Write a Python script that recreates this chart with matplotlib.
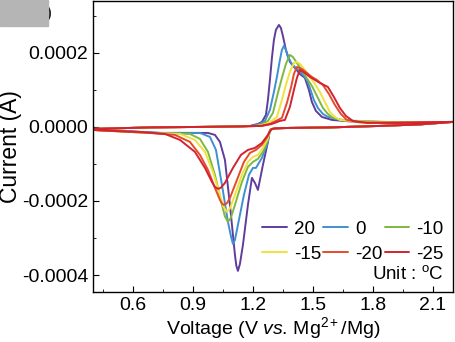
import numpy as np
import matplotlib.pyplot as plt
from matplotlib.patches import Rectangle

plt.rcParams['font.family'] = ['Liberation Sans', 'DejaVu Sans']
plt.rcParams['axes.unicode_minus'] = False
plt.rcParams['mathtext.fontset'] = 'custom'
plt.rcParams['mathtext.rm'] = 'Liberation Sans'
plt.rcParams['mathtext.it'] = 'Liberation Sans:italic'

# currents are given in units of 1e-4 A
SCALE = 1e-4

temps = ['20', '0', '-10', '-15', '-20', '-25']
colors = ['#5f3d9c', '#3f8fd2', '#7db842', '#f0e23c', '#e64a2a', '#d2232f']

# shared low-voltage part of the anodic sweep
base_v = [0.400, 0.685, 0.935, 1.135]
base_i = [-0.054, -0.0135, 0.0, 0.0135]

# shared high-voltage part of the cathodic sweep (2.2 V -> 1.33 V)
top_v = [2.200, 2.035, 1.835, 1.585, 1.385, 1.335]
top_i = [0.135, 0.068, 0.027, -0.0135, -0.027, -0.035]

# anodic sweeps
fwd_v_20 = [1.185, 1.225, 1.245, 1.265, 1.275, 1.285, 1.295, 1.305, 1.315, 1.330, 1.340,
            1.350, 1.365, 1.385, 1.410, 1.435, 1.460, 1.480, 1.495, 1.515, 1.545, 1.595,
            1.685, 1.935, 2.200]
fwd_i_20 = [0.027, 0.081, 0.135, 0.324, 0.729, 1.269, 1.863, 2.349, 2.619, 2.754, 2.673,
            2.457, 2.079, 1.755, 1.593, 1.430, 1.323, 0.999, 0.675, 0.432, 0.270, 0.189,
            0.149, 0.122, 0.135]

fwd_v_0 = [1.195, 1.235, 1.260, 1.285, 1.305, 1.320, 1.335, 1.345, 1.355, 1.365, 1.375,
           1.395, 1.415, 1.435, 1.455, 1.470, 1.485, 1.505, 1.525, 1.550, 1.575, 1.635,
           1.735, 1.935, 2.200]
fwd_i_0 = [0.027, 0.081, 0.162, 0.459, 0.945, 1.350, 1.809, 2.079, 2.187, 2.079, 1.890,
           1.701, 1.593, 1.500, 1.377, 1.269, 1.053, 0.729, 0.513, 0.351, 0.270, 0.189,
           0.149, 0.122, 0.135]

fwd_v_m10 = [1.210, 1.250, 1.275, 1.300, 1.325, 1.345, 1.365, 1.385, 1.400, 1.420, 1.450,
             1.475, 1.495, 1.510, 1.530, 1.550, 1.575, 1.600, 1.660, 1.785, 1.935, 2.200]
fwd_i_m10 = [0.027, 0.081, 0.162, 0.378, 0.918, 1.323, 1.701, 1.944, 1.890, 1.728, 1.485,
             1.269, 1.107, 0.945, 0.729, 0.513, 0.351, 0.243, 0.176, 0.149, 0.122, 0.135]

fwd_v_m15 = [1.225, 1.265, 1.295, 1.320, 1.345, 1.365, 1.385, 1.405, 1.420, 1.435, 1.460,
             1.485, 1.510, 1.535, 1.560, 1.585, 1.610, 1.635, 1.710, 1.935, 2.200]
fwd_i_m15 = [0.027, 0.081, 0.162, 0.270, 0.729, 1.134, 1.485, 1.728, 1.755, 1.701, 1.539,
             1.350, 1.161, 0.945, 0.675, 0.405, 0.270, 0.189, 0.149, 0.122, 0.135]

fwd_v_m20 = [1.235, 1.285, 1.315, 1.345, 1.370, 1.390, 1.405, 1.420, 1.445, 1.470, 1.495,
             1.520, 1.550, 1.580, 1.610, 1.640, 1.670, 1.735, 1.935, 2.200]
fwd_i_m20 = [0.027, 0.081, 0.162, 0.243, 0.648, 1.053, 1.431, 1.620, 1.566, 1.458, 1.350,
             1.269, 1.134, 0.891, 0.594, 0.351, 0.189, 0.122, 0.122, 0.135]

fwd_v_m25 = [1.245, 1.295, 1.335, 1.360, 1.385, 1.405, 1.420, 1.435, 1.460, 1.485, 1.510,
             1.535, 1.575, 1.605, 1.635, 1.665, 1.700, 1.770, 1.935, 2.200]
fwd_i_m25 = [0.027, 0.081, 0.162, 0.189, 0.540, 0.999, 1.323, 1.539, 1.458, 1.350, 1.269,
             1.188, 1.080, 0.810, 0.513, 0.297, 0.162, 0.108, 0.108, 0.135]

# cathodic sweeps (1.31 V -> 0.4 V)
rev_v_20 = [1.310, 1.290, 1.282, 1.275, 1.250, 1.225, 1.210, 1.195, 1.175, 1.150, 1.135,
            1.125, 1.117, 1.110, 1.085, 1.060, 1.035, 1.010, 0.975, 0.735, 0.585, 0.400]
rev_i_20 = [-0.0405, -0.060, -0.170, -0.405, -1.026, -1.701, -1.512, -1.377, -2.106, -3.186,
            -3.700, -3.888, -3.750, -3.456, -2.106, -0.891, -0.405, -0.216, -0.162, -0.162,
            -0.1215, -0.081]

rev_v_0 = [1.310, 1.290, 1.282, 1.275, 1.245, 1.215, 1.200, 1.180, 1.155, 1.125, 1.110,
           1.100, 1.090, 1.075, 1.045, 1.015, 0.985, 0.935, 0.735, 0.585, 0.400]
rev_i_0 = [-0.0405, -0.060, -0.160, -0.405, -0.837, -1.107, -1.107, -1.296, -1.836, -2.646,
           -3.050, -3.160, -2.950, -2.565, -1.566, -0.621, -0.270, -0.162, -0.162, -0.1215,
           -0.081]

rev_v_m10 = [1.310, 1.290, 1.282, 1.275, 1.250, 1.225, 1.200, 1.175, 1.145, 1.110, 1.090,
             1.075, 1.060, 1.045, 1.010, 0.975, 0.935, 0.885, 0.735, 0.585, 0.400]
rev_i_m10 = [-0.0405, -0.060, -0.150, -0.351, -0.675, -0.864, -0.945, -1.080, -1.485, -2.106,
             -2.450, -2.565, -2.420, -2.106, -1.296, -0.675, -0.324, -0.189, -0.176, -0.135,
             -0.081]

rev_v_m15 = [1.310, 1.290, 1.282, 1.275, 1.250, 1.225, 1.200, 1.175, 1.145, 1.110, 1.085,
             1.070, 1.052, 1.035, 1.000, 0.960, 0.910, 0.835, 0.685, 0.535, 0.400]
rev_i_m15 = [-0.0405, -0.060, -0.140, -0.297, -0.567, -0.756, -0.810, -0.945, -1.296, -1.836,
             -2.200, -2.295, -2.150, -1.836, -1.215, -0.675, -0.351, -0.189, -0.162, -0.1215,
             -0.081]

rev_v_m20 = [1.310, 1.290, 1.282, 1.275, 1.245, 1.215, 1.185, 1.155, 1.120, 1.085, 1.070,
             1.055, 1.045, 1.035, 1.010, 0.975, 0.935, 0.885, 0.810, 0.685, 0.535, 0.400]
rev_i_m20 = [-0.0405, -0.060, -0.130, -0.243, -0.486, -0.621, -0.702, -0.945, -1.431, -1.917,
             -2.060, -2.106, -2.070, -1.971, -1.647, -1.161, -0.756, -0.405, -0.216, -0.162,
             -0.1215, -0.081]

rev_v_m25 = [1.310, 1.295, 1.285, 1.275, 1.245, 1.210, 1.175, 1.140, 1.100, 1.060, 1.040,
             1.025, 1.010, 0.995, 0.960, 0.910, 0.835, 0.760, 0.635, 0.510, 0.400]
rev_i_m25 = [-0.0405, -0.060, -0.120, -0.216, -0.432, -0.567, -0.621, -0.756, -1.107, -1.512,
             -1.640, -1.674, -1.620, -1.485, -1.107, -0.675, -0.351, -0.189, -0.135, -0.108,
             -0.081]

fwd_v = [fwd_v_20, fwd_v_0, fwd_v_m10, fwd_v_m15, fwd_v_m20, fwd_v_m25]
fwd_i = [fwd_i_20, fwd_i_0, fwd_i_m10, fwd_i_m15, fwd_i_m20, fwd_i_m25]
rev_v = [rev_v_20, rev_v_0, rev_v_m10, rev_v_m15, rev_v_m20, rev_v_m25]
rev_i = [rev_i_20, rev_i_0, rev_i_m10, rev_i_m15, rev_i_m20, rev_i_m25]

fig = plt.figure(figsize=(4.56, 3.42), dpi=100)
ax = fig.add_axes([0.204, 0.146, 0.789, 0.851])

lines = []
for k in range(len(temps)):
    v = np.concatenate([base_v, fwd_v[k], top_v, rev_v[k]])
    cur = np.concatenate([base_i, fwd_i[k], top_i, rev_i[k]]) * SCALE
    ln, = ax.plot(v, cur, color=colors[k], lw=1.4, label=temps[k],
                  solid_joinstyle='round', solid_capstyle='round')
    lines.append(ln)

ax.set_xlim(0.4, 2.2)
ax.set_ylim(-0.000446, 0.00034)
ax.set_xticks([0.6, 0.9, 1.2, 1.5, 1.8, 2.1])
ax.set_xticks(np.arange(0.45, 2.2, 0.15), minor=True)
ax.set_yticks([-0.0004, -0.0002, 0.0, 0.0002])
ax.set_yticks([-0.0003, -0.0001, 0.0001, 0.0003], minor=True)
ax.set_yticklabels(['-0.0004', '-0.0002', '0.0000', '0.0002'])
ax.tick_params(which='both', direction='in', labelsize=14)
ax.tick_params(which='major', length=4)
ax.tick_params(which='minor', length=2)
for s in ax.spines.values():
    s.set_linewidth(1.0)

ax.set_xlabel('Voltage (V $\\it{vs}$. Mg$^{\\rm 2+}$/Mg)', fontsize=14, labelpad=1)
ax.set_ylabel('Current (A)', fontsize=16.5, labelpad=0)

# legend filled row by row: 20, 0, -10 / -15, -20, -25
order = [0, 3, 1, 4, 2, 5]
leg = ax.legend([lines[i] for i in order], [temps[i] for i in order],
                ncol=3, loc='lower right', bbox_to_anchor=(0.975, 0.10),
                frameon=False, fontsize=13.5, handlelength=1.3,
                handletextpad=0.4, columnspacing=0.1, labelspacing=0.42,
                borderaxespad=0.0, borderpad=0.0)
ax.text(0.975, 0.03, 'Unit : $^{\\rm o}$C', transform=ax.transAxes,
        ha='right', va='bottom', fontsize=13.5)

# panel label corner
fig.patches.append(Rectangle((0, 1 - 26 / 342), 48 / 456, 26 / 342,
                             transform=fig.transFigure, color='#b5b5b5', zorder=5))
fig.text(49 / 456, 1 - 13 / 342, ')', fontsize=13, ha='center', va='center')

fig.savefig('out.png', dpi=100)
